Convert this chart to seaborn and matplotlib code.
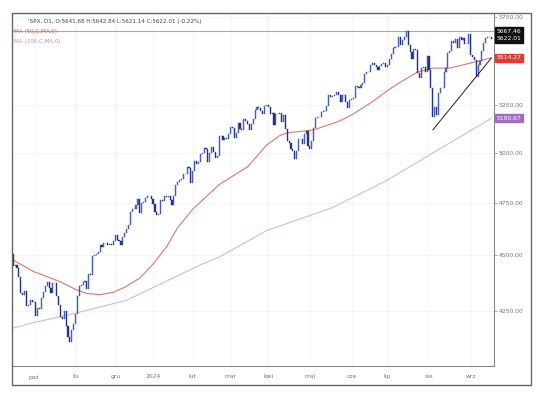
import pandas as pd
import numpy as np
import matplotlib
matplotlib.use("Agg")
import matplotlib.pyplot as plt
import matplotlib.ticker as mticker
from matplotlib.patches import Rectangle
import seaborn as sns

# daily closes, S&P 500, per month
sep_2023 = [4450.32, 4453.53, 4443.95, 4402.20, 4330.00, 4320.06, 4337.44, 4273.53, 4274.51, 4299.70, 4288.05]
oct_2023 = [4288.39, 4229.45, 4263.75, 4258.19, 4308.50, 4335.66, 4358.24, 4376.95, 4349.61, 4327.78, 4373.63,
            4373.20, 4314.60, 4278.00, 4224.16, 4217.04, 4247.68, 4186.77, 4137.23, 4117.37, 4166.82, 4193.80]
nov_2023 = [4237.86, 4317.78, 4358.34, 4365.98, 4378.38, 4382.78, 4347.35, 4415.24, 4411.55, 4495.70, 4502.88,
            4508.24, 4514.02, 4547.38, 4538.19, 4556.62, 4559.34, 4550.43, 4554.89, 4550.58, 4567.80]
dec_2023 = [4594.63, 4569.78, 4567.18, 4549.34, 4585.59, 4604.37, 4622.44, 4643.70, 4707.09, 4719.55, 4719.19,
            4740.56, 4768.37, 4698.35, 4746.75, 4754.63, 4774.75, 4781.58, 4783.35, 4769.83]
jan_2024 = [4742.83, 4704.81, 4688.68, 4697.24, 4763.54, 4756.50, 4783.45, 4780.24, 4783.83, 4765.98, 4739.21,
            4780.94, 4839.81, 4850.43, 4864.60, 4868.55, 4894.16, 4890.97, 4927.93, 4924.97, 4845.65]
feb_2024 = [4906.19, 4958.61, 4942.81, 4954.23, 4995.06, 4997.91, 5026.61, 5021.84, 4953.17, 5000.62, 5029.73,
            5005.57, 4975.51, 4981.80, 5087.03, 5088.80, 5069.53, 5078.18, 5069.76, 5096.27]
mar_2024 = [5137.08, 5130.95, 5078.65, 5104.76, 5157.36, 5123.69, 5117.94, 5175.27, 5165.31, 5150.48, 5117.09,
            5149.42, 5178.51, 5224.62, 5241.53, 5234.18, 5218.19, 5203.58, 5248.49, 5254.35]
apr_2024 = [5243.77, 5205.81, 5211.49, 5147.21, 5204.34, 5202.39, 5209.91, 5160.64, 5199.06, 5123.41, 5061.82,
            5051.41, 5022.21, 5011.12, 4967.23, 5010.60, 5070.55, 5071.63, 5048.42, 5099.96, 5116.17, 5035.69]
may_2024 = [5018.39, 5064.20, 5127.79, 5180.74, 5187.70, 5187.67, 5214.08, 5222.68, 5221.42, 5246.68, 5308.15,
            5297.10, 5303.27, 5308.13, 5321.41, 5307.01, 5267.84, 5304.72, 5306.04, 5266.95, 5235.48, 5277.51]
jun_2024 = [5283.40, 5291.34, 5354.03, 5352.96, 5346.99, 5360.79, 5375.32, 5421.03, 5433.74, 5431.60, 5473.23,
            5487.03, 5473.17, 5464.62, 5447.87, 5469.30, 5477.90, 5482.87, 5460.48]
jul_2024 = [5475.09, 5509.01, 5537.02, 5567.19, 5572.85, 5576.98, 5633.91, 5584.54, 5615.35, 5631.22, 5667.20,
            5588.27, 5544.59, 5505.00, 5564.41, 5555.74, 5427.13, 5399.22, 5459.10, 5463.54, 5436.44, 5522.30]
aug_2024 = [5446.68, 5346.56, 5186.33, 5240.03, 5199.50, 5319.31, 5344.16, 5344.39, 5434.43, 5455.21, 5543.22,
            5554.25, 5608.25, 5597.12, 5620.85, 5570.64, 5634.61, 5616.84, 5625.80, 5592.18, 5591.96, 5648.40]
sep_2024 = [5528.93, 5520.07, 5503.41, 5408.42, 5471.05, 5495.52, 5554.13, 5595.76, 5626.02, 5633.09, 5634.58,
            5622.01]
first_open = 4505.10

holidays = ["2023-11-23", "2023-12-25", "2024-01-01", "2024-01-15", "2024-02-19", "2024-03-29",
            "2024-05-27", "2024-06-19", "2024-07-04", "2024-09-02"]

# moving averages
ma50_dates = ["2023-09-15", "2023-10-02", "2023-10-20", "2023-11-01", "2023-11-09", "2023-11-20",
              "2023-11-30", "2023-12-08", "2023-12-20", "2024-01-02", "2024-01-11", "2024-01-22",
              "2024-02-01", "2024-02-22", "2024-03-14", "2024-03-28", "2024-04-09", "2024-04-15",
              "2024-04-25", "2024-05-03", "2024-05-23", "2024-06-04", "2024-06-18", "2024-07-03",
              "2024-07-11", "2024-07-24", "2024-08-05", "2024-08-16", "2024-08-29", "2024-09-18"]
ma50_vals = [4478, 4425, 4379, 4345, 4327, 4322, 4332, 4355, 4396, 4460, 4538, 4630,
             4719, 4840, 4929, 5040, 5090, 5105, 5113, 5120, 5168, 5205, 5270, 5345,
             5378, 5434, 5456, 5456, 5479, 5514.27]
ma200_dates = ["2023-09-15", "2023-10-02", "2023-10-25", "2023-12-11", "2024-02-07", "2024-02-22",
               "2024-03-28", "2024-05-17", "2024-07-01", "2024-08-05", "2024-09-18"]
ma200_vals = [4176, 4200, 4230, 4297, 4456, 4492, 4616, 4727, 4862, 5000, 5180.67]

trend_dates = ["2024-08-05", "2024-09-18"]
trend_vals = [5119.26, 5513.0]

level_line = 5667.46
header = "'SPX, D1, O:5641.68 H:5642.84 L:5621.14 C:5622.01 (-0.22%)"
month_labels = ["paź", "lis", "gru", "2024", "lut", "mar", "kwi", "maj", "cze", "lip", "sie", "wrz"]
price_ticks = [4250, 4500, 4750, 5000, 5250, 5750]

closes = (sep_2023 + oct_2023 + nov_2023 + dec_2023 + jan_2024 + feb_2024 + mar_2024 + apr_2024
          + may_2024 + jun_2024 + jul_2024 + aug_2024 + sep_2024)
days = pd.bdate_range("2023-09-15", "2024-09-18")
days = days[~days.isin(pd.to_datetime(holidays))]
df = pd.DataFrame({"date": days, "close": closes})
df["idx"] = np.arange(len(df))
df["open"] = [first_open] + closes[:-1]
pos = dict(zip(df["date"], df["idx"]))


def to_idx(dates):
    return [pos[pd.Timestamp(d)] for d in dates]


sns.set_style("white")
plt.rcParams["font.family"] = ["DejaVu Sans"]

fig = plt.figure(figsize=(5.36, 3.93), dpi=100)
ax = fig.add_axes([12 / 536, 1 - 366 / 393, (494 - 12) / 536, (366 - 13) / 393])
ax.set_yscale("log")

# month ticks at first trading day of each month
month_start = df.groupby(df["date"].dt.to_period("M"))["idx"].min().values[1:]
for m in month_start:
    ax.axvline(m, color="#f1f1f1", lw=0.5, zorder=0)
for p in price_ticks:
    ax.axhline(p, color="#f1f1f1", lw=0.5, zorder=0)

# candles
up = df["close"] >= df["open"]
lo = np.minimum(df["open"], df["close"])
hi = np.maximum(df["open"], df["close"])
ax.bar(df["idx"][up], (hi - lo)[up], bottom=lo[up], width=0.6, color="#5068c8",
       edgecolor="#3a50b0", linewidth=0.3, zorder=3)
ax.bar(df["idx"][~up], (hi - lo)[~up], bottom=lo[~up], width=0.6, color="#24337e",
       edgecolor="#24337e", linewidth=0.3, zorder=3)

sns.lineplot(x=to_idx(ma50_dates), y=ma50_vals, ax=ax, color="#e0766f", lw=0.8, zorder=2)
sns.lineplot(x=to_idx(ma200_dates), y=ma200_vals, ax=ax, color="#dcbde3", lw=0.9, zorder=2)
ax.plot(to_idx(trend_dates), trend_vals, color="#222222", lw=0.7, zorder=4)
ax.axhline(level_line, color="#a8a8a8", lw=0.8, zorder=2)

ax.set_xlim(-0.64, 254.4)
ax.set_ylim(4016, 5774)
ax.set_xticks(month_start)
ax.set_xticklabels(month_labels)
ax.yaxis.tick_right()
ax.yaxis.set_major_locator(mticker.FixedLocator(price_ticks))
ax.yaxis.set_minor_locator(mticker.NullLocator())
ax.yaxis.set_major_formatter(mticker.FuncFormatter(lambda v, _: f"{v:.2f}"))
ax.tick_params(axis="both", labelsize=4.3, colors="#888888", labelcolor="#777777",
               length=2, width=0.5, pad=1.5)
ax.tick_params(axis="x", pad=4)
for s in ax.spines.values():
    s.set_color("#808080")
    s.set_linewidth(0.7)

# header and legend texts
ax.text(0.034, 0.975, header, transform=ax.transAxes, fontsize=4.1, color="#444444", va="center")
ax.text(0.004, 0.948, "MA (50,C,MA,0)", transform=ax.transAxes, fontsize=4.1, color="#e0605a", va="center")
ax.text(0.004, 0.920, "MA (200,C,MA,0)", transform=ax.transAxes, fontsize=4.1, color="#c08ad0", va="center")

# price boxes on the right axis
boxes = [(level_line, "5667.46", "#111111"), (5622.01, "5622.01", "#111111"),
         (5514.27, "5514.27", "#e53935"), (5180.67, "5180.67", "#a46bc2")]
for val, txt, col in boxes:
    ax.text(1.006, val, txt, transform=ax.get_yaxis_transform(), fontsize=4.3, color="white",
            va="center", ha="left", clip_on=False, zorder=6,
            bbox=dict(boxstyle="square,pad=0.25", facecolor=col, edgecolor=col))

# outer frame
fig.patches.append(Rectangle((12 / 536, 1 - 385 / 393), (531 - 12) / 536, (385 - 13) / 393,
                             transform=fig.transFigure, fill=False, edgecolor="#666666", lw=1.0))

fig.savefig("out.png", dpi=100)
